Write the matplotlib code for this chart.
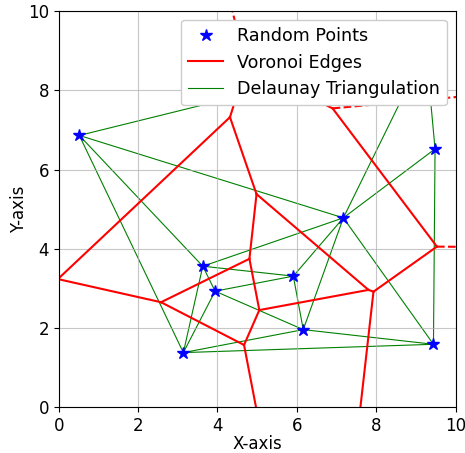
import numpy as np
import matplotlib
matplotlib.use('Agg')
import matplotlib.pyplot as plt
from matplotlib.tri import Triangulation
from matplotlib.lines import Line2D

# points (last one sits under the legend)
pts_x = [0.52, 3.14, 3.63, 3.94, 5.91, 6.16, 7.17, 9.48, 9.44, 9.25]
pts_y = [6.86, 1.38, 3.56, 2.93, 3.31, 1.96, 4.78, 6.52, 1.59, 9.02]

plt.rcParams['font.size'] = 12

points = np.column_stack([pts_x, pts_y])
tri = Triangulation(pts_x, pts_y)


def circumcenter(a, b, c):
    d = 2 * (a[0] * (b[1] - c[1]) + b[0] * (c[1] - a[1]) + c[0] * (a[1] - b[1]))
    ux = ((a @ a) * (b[1] - c[1]) + (b @ b) * (c[1] - a[1]) + (c @ c) * (a[1] - b[1])) / d
    uy = ((a @ a) * (c[0] - b[0]) + (b @ b) * (a[0] - c[0]) + (c @ c) * (b[0] - a[0])) / d
    return np.array([ux, uy])


centers = np.array([circumcenter(*points[t]) for t in tri.triangles])

# voronoi ridges from the delaunay dual
finite_segs = []
infinite_segs = []
center = points.mean(axis=0)
ptp_bound = np.ptp(points, axis=0)
for ti, t in enumerate(tri.triangles):
    for j in range(3):
        nb = tri.neighbors[ti, j]
        p0, p1 = points[t[j]], points[t[(j + 1) % 3]]
        if nb >= 0:
            if nb > ti:
                finite_segs.append([centers[ti], centers[nb]])
        else:
            tang = (p1 - p0) / np.linalg.norm(p1 - p0)
            n = np.array([-tang[1], tang[0]])
            mid = (p0 + p1) / 2
            direction = np.sign(np.dot(mid - center, n)) * n
            aspect_factor = abs(ptp_bound.max() / ptp_bound.min())
            far = centers[ti] + direction * ptp_bound.max() * aspect_factor
            infinite_segs.append([centers[ti], far])

fig = plt.figure(figsize=(4.65, 4.53), dpi=100)
ax = fig.add_axes([0.1262, 0.1009, 0.8538, 0.8748])

for s in finite_segs:
    ax.plot([s[0][0], s[1][0]], [s[0][1], s[1][1]], color='red', lw=1.5)
for s in infinite_segs:
    ax.plot([s[0][0], s[1][0]], [s[0][1], s[1][1]], color='red', lw=1.5, linestyle='--')

ax.triplot(tri, color='green', lw=0.8)
ax.plot(pts_x, pts_y, 'b*', markersize=9, zorder=5)

ax.set_xlim(0, 10)
ax.set_ylim(0, 10)
ax.set_xlabel('X-axis', labelpad=0)
ax.set_ylabel('Y-axis', labelpad=0)
ax.grid(True, alpha=0.7)

handles = [
    Line2D([], [], color='blue', marker='*', linestyle='None', markersize=9),
    Line2D([], [], color='red', lw=1.5),
    Line2D([], [], color='green', lw=0.8),
]
leg = ax.legend(handles, ['Random Points', 'Voronoi Edges', 'Delaunay Triangulation'],
                loc='upper right', fontsize=12.6, framealpha=1)
leg.set_zorder(10)

fig.savefig('out.png', dpi=100)
